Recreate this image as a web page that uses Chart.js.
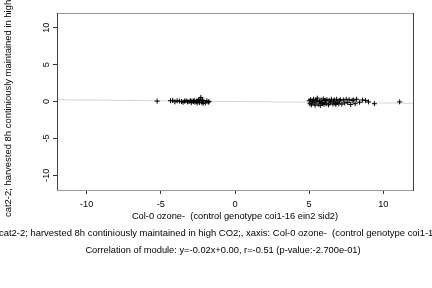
<!DOCTYPE html>
<html>
<head>
<meta charset="utf-8">
<script src="https://cdn.jsdelivr.net/npm/chart.js@4"></script>
<style>
  html, body { margin: 0; padding: 0; background: #fff; }
  #wrap { width: 432px; height: 288px; }
</style>
</head>
<body>
<div id="wrap"><canvas id="chart" width="432" height="288"></canvas></div>
<script>
// values
const leftX = [-5.25, -4.35, -4.2, -4.05, -3.9, -3.75, -3.6, -3.5, -3.4, -3.3, -3.2, -3.1, -3.0, -2.95, -2.9, -2.8, -2.75,
    -2.7, -2.6, -2.55, -2.5, -2.45, -2.4, -2.35, -2.3, -2.25, -2.2, -2.15, -2.1, -2.0, -1.9, -1.8, -1.75];
const leftY = [0.05, 0.1, 0.15, -0.05, 0.1, 0.05, 0.0, -0.1, 0.05, 0.1, -0.05, 0.0, 0.1, -0.15, 0.05, 0.0, 0.15,
    -0.1, 0.05, -0.2, 0.1, 0.2, -0.15, 0.3, 0.55, -0.1, 0.15, -0.25, 0.05, -0.2, 0.1, -0.1, 0.0];
const rightX = [5.0, 5.05, 5.1, 5.15, 5.2, 5.25, 5.3, 5.35, 5.4, 5.45, 5.5, 5.55, 5.6, 5.7, 5.75, 5.8, 5.85, 5.9, 5.95,
    6.0, 6.05, 6.1, 6.15, 6.2, 6.3, 6.35, 6.4, 6.45, 6.5, 6.6, 6.65, 6.7, 6.75, 6.8, 6.85, 6.9, 7.0, 7.05, 7.1, 7.2,
    7.3, 7.4, 7.5, 7.6, 7.7, 7.8, 7.9, 8.0, 8.1, 8.2, 8.4, 8.6, 8.8, 9.0, 9.4, 11.1];
const rightY = [0.1, -0.3, 0.25, -0.45, 0.05, -0.1, 0.3, -0.2, -0.5, 0.2, 0.1, 0.45, -0.35, 0.0, -0.55, 0.2, -0.15,
    -0.25, 0.35, -0.4, 0.15, 0.1, -0.3, 0.25, -0.45, 0.15, -0.2, -0.05, 0.3, -0.35, 0.05, 0.2, -0.25, -0.4, 0.3,
    -0.1, -0.3, 0.1, 0.25, -0.35, 0.2, -0.2, 0.3, -0.15, 0.25, -0.4, 0.15, 0.2, -0.3, 0.3, -0.1, 0.2, 0.15, -0.05,
    -0.3, -0.05];

const slope = -0.02;
const intercept = 0.00;
const axisMin = -12;
const axisMax = 12;
const xTicks = [-10, -5, 0, 5, 10];
const yTicks = [-10, -5, 0, 5, 10];

const xTitle = 'Col-0 ozone-  (control genotype coi1-16 ein2 sid2)';
const yTitle = 'cat2-2; harvested 8h continiously maintained in high CO2;';
const caption1 = 'cat2-2; harvested 8h continiously maintained in high CO2;, xaxis: Col-0 ozone-  (control genotype coi1-16 ein2 sid2)';
const caption2 = 'Correlation of module: y=-0.02x+0.00, r=-0.51 (p-value:-2.700e-01)';

const FONT = 'Liberation Sans, Arial, sans-serif';

const points = leftX.map((x, i) => ({ x, y: leftY[i] }))
    .concat(rightX.map((x, i) => ({ x, y: rightY[i] })));
const fitLine = [axisMin, axisMax].map(x => ({ x, y: slope * x + intercept }));

const textPlugin = {
    id: 'rtext',
    afterDraw(chart) {
        const ctx = chart.ctx;
        const a = chart.chartArea;
        ctx.save();
        // box
        ctx.lineWidth = 1;
        ctx.strokeStyle = '#999';
        ctx.beginPath();
        ctx.moveTo(a.left, a.top + 0.5); ctx.lineTo(a.right, a.top + 0.5);
        ctx.moveTo(a.left, a.bottom + 0.5); ctx.lineTo(a.right, a.bottom + 0.5);
        ctx.stroke();
        ctx.strokeStyle = '#444';
        ctx.beginPath();
        ctx.moveTo(a.left + 0.5, a.top); ctx.lineTo(a.left + 0.5, a.bottom);
        ctx.moveTo(a.right + 0.5, a.top); ctx.lineTo(a.right + 0.5, a.bottom + 1);
        ctx.stroke();

        ctx.fillStyle = '#000';
        ctx.font = '9.3px ' + FONT;
        ctx.textBaseline = 'middle';
        ctx.textAlign = 'center';
        ctx.fillText(xTitle, (a.left + a.right) / 2, 216);
        ctx.fillText(caption2, 223, 250);
        ctx.font = '9.45px ' + FONT;
        ctx.textAlign = 'left';
        ctx.fillText(caption1, -1, 233);

        ctx.translate(8, 217);
        ctx.rotate(-Math.PI / 2);
        ctx.fillText(yTitle, 0, 0);
        ctx.restore();
    }
};

new Chart(document.getElementById('chart'), {
    type: 'scatter',
    data: {
        datasets: [
            {
                label: 'fit',
                data: fitLine,
                type: 'line',
                showLine: true,
                borderColor: '#d4d4d4',
                borderWidth: 1,
                pointRadius: 0,
                fill: false,
                order: 2
            },
            {
                label: 'genes',
                data: points,
                pointStyle: 'cross',
                pointRadius: 2.5,
                borderColor: '#000',
                backgroundColor: '#000',
                borderWidth: 1,
                order: 1
            }
        ]
    },
    plugins: [textPlugin],
    options: {
        responsive: false,
        animation: false,
        layout: { padding: { top: 13, right: 19, left: 0, bottom: 0 } },
        plugins: { legend: { display: false }, tooltip: { enabled: false } },
        scales: {
            x: {
                type: 'linear',
                min: axisMin,
                max: axisMax,
                afterBuildTicks: s => { s.ticks = xTicks.map(v => ({ value: v })); },
                afterFit: s => { s.height = 98; },
                grid: { drawOnChartArea: false, tickLength: 4, tickColor: '#333' },
                border: { display: false },
                ticks: { color: '#000', font: { size: 9.2, family: FONT }, padding: 5, maxRotation: 0 }
            },
            y: {
                type: 'linear',
                min: axisMin,
                max: axisMax,
                afterBuildTicks: s => { s.ticks = yTicks.map(v => ({ value: v })); },
                afterFit: s => { s.width = 57; },
                grid: { drawOnChartArea: false, tickLength: 4, tickColor: '#333' },
                border: { display: false },
                ticks: { color: '#000', font: { size: 9.2, family: FONT }, padding: 0, minRotation: 90, maxRotation: 90, crossAlign: 'center' }
            }
        }
    }
});
</script>
</body>
</html>
